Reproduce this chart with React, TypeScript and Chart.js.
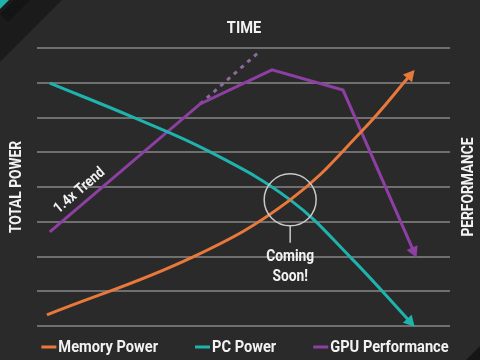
import React, { useEffect, useRef } from "react";
import { Chart, registerables } from "chart.js";

Chart.register(...registerables);

// ---- data (x: time 0..100, y: grid units 0..8) ----
const seriesLabels = ["Memory Power", "PC Power", "GPU Performance"];
const seriesColors = ["#e8793a", "#1fb3ad", "#8e3fa3"];

const memoryX = [2.4, 37.8, 61.3, 78.9, 90.8];
const memoryY = [0.32, 1.99, 3.63, 5.64, 7.28];

const pcX = [3.1, 23.2, 41.9, 61.3, 75.8, 90.8];
const pcY = [6.99, 6.01, 5.01, 3.63, 1.99, 0.06];

const gpuX = [3.1, 39.5, 56.9, 74.1, 91.5];
const gpuY = [2.71, 6.39, 7.37, 6.79, 2.07];

const trendX = [39.5, 53.5];
const trendY = [6.39, 7.86];
const trendColor = "#8c6b9c";

const titleText = "TIME";
const leftAxisTitle = "TOTAL POWER";
const rightAxisTitle = "PERFORMANCE";
const trendLabel = "1.4x Trend";
const calloutLines = ["Coming", "Soon!"];
const calloutX = 61.3;
const calloutY = 3.63;

const FONT = "Roboto, 'Noto Sans', sans-serif";
const SX = 0.86; // horizontal condensing of the text
const TEXT = "#f2f2f2";
const BG = "#2a2a2a";

function pts(xs: number[], ys: number[]) {
  return xs.map((x, i) => ({ x, y: ys[i] }));
}

function fillCondensed(ctx: CanvasRenderingContext2D, text: string, x: number, y: number, sx = SX) {
  ctx.save();
  ctx.translate(x, y);
  ctx.scale(sx, 1);
  ctx.fillText(text, 0, 0);
  ctx.restore();
}

function drawArrow(ctx: CanvasRenderingContext2D, meta: any, color: string) {
  const els = meta.data;
  if (!els || els.length < 2) return;
  const p = els[els.length - 1];
  const prev = els[els.length - 2];
  let fx = p.cp1x, fy = p.cp1y;
  if (fx === undefined || (Math.abs(fx - p.x) < 0.5 && Math.abs(fy - p.y) < 0.5)) {
    fx = prev.x; fy = prev.y;
  }
  const a = Math.atan2(p.y - fy, p.x - fx);
  const dx = Math.cos(a), dy = Math.sin(a);
  const tipX = p.x + dx * 4, tipY = p.y + dy * 4;
  const bx = p.x - dx * 7, by = p.y - dy * 7;
  const hw = 6;
  ctx.save();
  ctx.fillStyle = color;
  ctx.beginPath();
  ctx.moveTo(tipX, tipY);
  ctx.lineTo(bx - dy * hw, by + dx * hw);
  ctx.lineTo(bx + dy * hw, by - dx * hw);
  ctx.closePath();
  ctx.fill();
  ctx.restore();
}

const decorPlugin = {
  id: "decor",
  beforeDraw(chart: any) {
    const ctx = chart.ctx as CanvasRenderingContext2D;
    const w = chart.width, h = chart.height;
    ctx.save();
    ctx.fillStyle = BG;
    ctx.fillRect(0, 0, w, h);
    ctx.fillStyle = "#1b1b1b";
    ctx.beginPath();
    ctx.moveTo(0, 0);
    ctx.lineTo(62, 0);
    ctx.lineTo(0, 62);
    ctx.closePath();
    ctx.fill();
    ctx.fillStyle = "#141414";
    ctx.beginPath();
    ctx.moveTo(14, 0);
    ctx.lineTo(30, 0);
    ctx.lineTo(8, 22);
    ctx.lineTo(0, 14);
    ctx.closePath();
    ctx.fill();
    ctx.fillStyle = "#1fb3ad";
    ctx.beginPath();
    ctx.moveTo(0, 0);
    ctx.lineTo(9, 0);
    ctx.lineTo(0, 9);
    ctx.closePath();
    ctx.fill();
    ctx.fillStyle = "#161616";
    ctx.beginPath();
    ctx.moveTo(w, h - 14);
    ctx.lineTo(w, h);
    ctx.lineTo(w - 14, h);
    ctx.closePath();
    ctx.fill();
    ctx.restore();
  },
  afterDatasetsDraw(chart: any) {
    const ctx = chart.ctx as CanvasRenderingContext2D;
    const xs = chart.scales.x, ys = chart.scales.y;
    const area = chart.chartArea;

    chart.data.datasets.forEach((ds: any, i: number) => {
      if (ds.arrow) drawArrow(ctx, chart.getDatasetMeta(i), ds.borderColor);
    });

    ctx.save();
    ctx.fillStyle = TEXT;

    // title
    ctx.font = `bold 17px ${FONT}`;
    ctx.textAlign = "center";
    ctx.textBaseline = "middle";
    fillCondensed(ctx, titleText, 244, 29);

    // axis titles (both read bottom to top)
    ctx.font = `bold 16px ${FONT}`;
    const midY = (area.top + area.bottom) / 2;
    ctx.save();
    ctx.translate(17, midY);
    ctx.rotate(-Math.PI / 2);
    fillCondensed(ctx, leftAxisTitle, 0, 0);
    ctx.restore();
    ctx.save();
    ctx.translate(469, midY);
    ctx.rotate(-Math.PI / 2);
    fillCondensed(ctx, rightAxisTitle, 0, 0);
    ctx.restore();

    // trend label along first GPU segment
    const gpuMeta = chart.getDatasetMeta(2);
    const p0 = gpuMeta.data[0], p1 = gpuMeta.data[1];
    const ang = Math.atan2(p1.y - p0.y, p1.x - p0.x);
    const t = 0.25;
    const nx = Math.sin(ang), ny = -Math.cos(ang);
    const lx = p0.x + (p1.x - p0.x) * t + nx * 12;
    const ly = p0.y + (p1.y - p0.y) * t + ny * 12;
    ctx.save();
    ctx.translate(lx, ly);
    ctx.rotate(ang);
    ctx.font = `bold 15px ${FONT}`;
    fillCondensed(ctx, trendLabel, 0, 0);
    ctx.restore();

    // callout circle
    const cx = xs.getPixelForValue(calloutX);
    const cy = ys.getPixelForValue(calloutY);
    const r = 26;
    ctx.strokeStyle = "#c9c9c9";
    ctx.lineWidth = 1.5;
    ctx.beginPath();
    ctx.arc(cx, cy, r, 0, Math.PI * 2);
    ctx.stroke();
    ctx.beginPath();
    ctx.moveTo(cx, cy + r);
    ctx.lineTo(cx, cy + r + 17);
    ctx.stroke();
    ctx.font = `bold 16px ${FONT}`;
    calloutLines.forEach((s, i) => fillCondensed(ctx, s, cx, cy + r + 31 + i * 20));

    // legend
    ctx.font = `bold 17px ${FONT}`;
    ctx.textAlign = "left";
    const items = chart.data.datasets.filter((d: any) => d.inLegend);
    const dash = 15, gapText = 2, gapItem = 37;
    const widths = items.map((d: any) => dash + gapText + ctx.measureText(d.label).width * SX);
    const total = widths.reduce((a: number, b: number) => a + b, 0) + gapItem * (items.length - 1);
    let x = 245 - total / 2;
    const legY = 347;
    items.forEach((d: any, i: number) => {
      ctx.strokeStyle = d.borderColor;
      ctx.lineWidth = 3;
      ctx.beginPath();
      ctx.moveTo(x, legY);
      ctx.lineTo(x + dash, legY);
      ctx.stroke();
      ctx.fillStyle = TEXT;
      fillCondensed(ctx, d.label, x + dash + gapText, legY + 1);
      x += widths[i] + gapItem;
    });
    ctx.restore();
  },
};

export default function App() {
  const ref = useRef<HTMLCanvasElement | null>(null);
  useEffect(() => {
    if (!ref.current) return;
    const chart = new Chart(ref.current, {
      type: "line",
      data: {
        datasets: [
          {
            label: seriesLabels[0],
            data: pts(memoryX, memoryY),
            borderColor: seriesColors[0],
            borderWidth: 3,
            pointRadius: 0,
            tension: 0.4,
            inLegend: true,
            arrow: true,
          } as any,
          {
            label: seriesLabels[1],
            data: pts(pcX, pcY),
            borderColor: seriesColors[1],
            borderWidth: 3,
            pointRadius: 0,
            tension: 0.4,
            inLegend: true,
            arrow: true,
          } as any,
          {
            label: seriesLabels[2],
            data: pts(gpuX, gpuY),
            borderColor: seriesColors[2],
            borderWidth: 3,
            pointRadius: 0,
            tension: 0,
            inLegend: true,
            arrow: true,
          } as any,
          {
            label: "trend",
            data: pts(trendX, trendY),
            borderColor: trendColor,
            borderWidth: 3,
            borderDash: [4, 5],
            pointRadius: 0,
            tension: 0,
          } as any,
        ],
      },
      options: {
        animation: false,
        responsive: false,
        events: [],
        layout: { padding: { left: 37, right: 30, top: 48, bottom: 34 } },
        plugins: { legend: { display: false }, title: { display: false }, tooltip: { enabled: false } },
        scales: {
          x: { type: "linear", min: 0, max: 100, display: false },
          y: {
            type: "linear",
            min: 0,
            max: 8,
            display: true,
            ticks: { display: false, stepSize: 1 },
            border: { display: false },
            grid: { color: "#6f6f6f", lineWidth: 2, drawTicks: false },
          },
        },
      } as any,
      plugins: [decorPlugin],
    });
    return () => chart.destroy();
  }, []);
  return (
    <div style={{ position: "fixed", left: 0, top: 0, width: 480, height: 360, background: BG }}>
      <canvas ref={ref} width={480} height={360} style={{ display: "block", width: 480, height: 360 }} />
    </div>
  );
}
